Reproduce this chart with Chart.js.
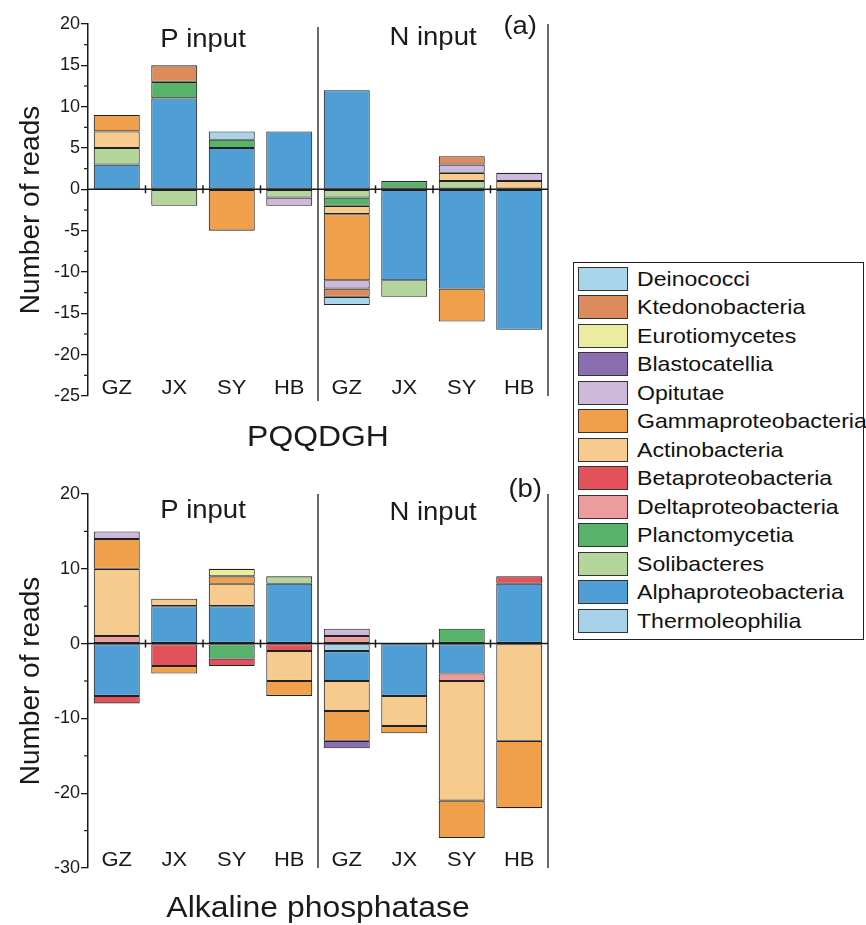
<!DOCTYPE html>
<html><head><meta charset="utf-8">
<script src="https://cdn.jsdelivr.net/npm/chart.js@4.4.1/dist/chart.umd.min.js"></script>
<style>
body{margin:0;background:#fff;}
#wrap{position:relative;width:866px;height:925px;overflow:hidden;font-family:'Liberation Sans',Arial,sans-serif;background:#fff;}
.cbox{position:absolute;left:0;width:566px;}
#legend{position:absolute;left:573px;top:262px;width:291px;height:378px;border:1px solid #222;box-sizing:border-box;background:#fff;}
.sw{position:absolute;left:4px;width:50px;height:24px;border:1.5px solid #333;box-sizing:border-box;}
.lt{position:absolute;left:63px;font-size:21px;line-height:24px;height:24px;white-space:nowrap;transform:scaleX(1.1);transform-origin:0 50%;color:#111;}
</style></head><body>
<div id="wrap">
<div class="cbox" style="top:0;height:460px"><canvas id="ca"></canvas></div>
<div class="cbox" style="top:470px;height:455px"><canvas id="cb"></canvas></div>
<div id="legend"></div>
</div>
<script>
// ---------- data ----------
const categories = ['GZ','JX','SY','HB','GZ','JX','SY','HB'];
const groupTitles = ['P input','N input'];
// stacking order (first = closest to zero)
const taxa = ['Thermoleophilia','Alphaproteobacteria','Solibacteres','Planctomycetia','Deltaproteobacteria','Betaproteobacteria','Actinobacteria','Gammaproteobacteria','Opitutae','Blastocatellia','Eurotiomycetes','Ktedonobacteria','Deinococci'];
const taxonColors = ['#a8d1ea','#4f9fd6','#b4d59b','#58b36a','#ec9c9d','#e3525a','#f6cb8d','#f09f4b','#cdb9d9','#8b6eaf','#ececa0','#dc8b5d','#a9d5ea'];

// (a) PQQDGH  order: P-GZ, P-JX, P-SY, P-HB, N-GZ, N-JX, N-SY, N-HB
const pqqThermoleophilia     = [0, 0, 0, 0, 0, 0, 0, 0];
const pqqAlphaproteobacteria = [3, 11, 5, 7, 12, -11, -12, -17];
const pqqSolibacteres        = [2, -2, 0, -1, -1, -2, 1, 0];
const pqqPlanctomycetia      = [0, 2, 1, 0, -1, 1, 0, 0];
const pqqDeltaproteobacteria = [0, 0, 0, 0, 0, 0, 0, 0];
const pqqBetaproteobacteria  = [0, 0, 0, 0, 0, 0, 0, 0];
const pqqActinobacteria      = [2, 0, 0, 0, -1, 0, 1, 1];
const pqqGammaproteobacteria = [2, 0, -5, 0, -8, 0, -4, 0];
const pqqOpitutae            = [0, 0, 0, -1, -1, 0, 1, 1];
const pqqBlastocatellia      = [0, 0, 0, 0, 0, 0, 0, 0];
const pqqEurotiomycetes      = [0, 0, 0, 0, 0, 0, 0, 0];
const pqqKtedonobacteria     = [0, 2, 0, 0, -1, 0, 1, 0];
const pqqDeinococci          = [0, 0, 1, 0, -1, 0, 0, 0];

// (b) Alkaline phosphatase
const alpThermoleophilia     = [0, 0, 0, 0, -1, 0, 0, 0];
const alpAlphaproteobacteria = [-7, 5, 5, 8, -4, -7, -4, 8];
const alpSolibacteres        = [0, 0, 0, 1, 0, 0, 0, 0];
const alpPlanctomycetia      = [0, 0, -2, 0, 0, 0, 2, 0];
const alpDeltaproteobacteria = [1, 0, 0, 0, 1, 0, -1, 0];
const alpBetaproteobacteria  = [-1, -3, -1, -1, 0, 0, 0, 1];
const alpActinobacteria      = [9, 1, 3, -4, -4, -4, -16, -13];
const alpGammaproteobacteria = [4, -1, 1, -2, -4, -1, -5, -9];
const alpOpitutae            = [1, 0, 0, 0, 1, 0, 0, 0];
const alpBlastocatellia      = [0, 0, 0, 0, -1, 0, 0, 0];
const alpEurotiomycetes      = [0, 0, 1, 0, 0, 0, 0, 0];
const alpKtedonobacteria     = [0, 0, 0, 0, 0, 0, 0, 0];
const alpDeinococci          = [0, 0, 0, 0, 0, 0, 0, 0];

const pqqTicks = [-25, -20, -15, -10, -5, 0, 5, 10, 15, 20];
const alpTicks = [-30, -20, -10, 0, 10, 20];

const pqqSeries = [pqqThermoleophilia, pqqAlphaproteobacteria, pqqSolibacteres, pqqPlanctomycetia, pqqDeltaproteobacteria, pqqBetaproteobacteria, pqqActinobacteria, pqqGammaproteobacteria, pqqOpitutae, pqqBlastocatellia, pqqEurotiomycetes, pqqKtedonobacteria, pqqDeinococci];
const alpSeries = [alpThermoleophilia, alpAlphaproteobacteria, alpSolibacteres, alpPlanctomycetia, alpDeltaproteobacteria, alpBetaproteobacteria, alpActinobacteria, alpGammaproteobacteria, alpOpitutae, alpBlastocatellia, alpEurotiomycetes, alpKtedonobacteria, alpDeinococci];

// ---------- drawing ----------
const FONT = "'Liberation Sans', Arial, sans-serif";
const INK = '#1a1a1a';

function sText(ctx, txt, x, y, size, align, sx) {
  ctx.save();
  ctx.translate(x, y);
  ctx.scale(sx, 1);
  ctx.font = size + 'px ' + FONT;
  ctx.textAlign = align;
  ctx.textBaseline = 'alphabetic';
  ctx.fillStyle = INK;
  ctx.fillText(txt, 0, 0);
  ctx.restore();
}

function makeDecor(cfg) {
  return {
    id: 'decor',
    afterDatasetsDraw(chart) {
      const {ctx, chartArea: a, scales: {x, y}} = chart;
      ctx.save();
      ctx.strokeStyle = INK;
      ctx.lineWidth = 1.5;
      const y0 = y.getPixelForValue(0);
      ctx.beginPath(); ctx.moveTo(a.left, y0); ctx.lineTo(a.right, y0); ctx.stroke();
      // category boundary ticks on zero line
      for (let i = 0; i < categories.length - 1; i++) {
        if (i === 3) continue;
        const bx = (x.getPixelForValue(i) + x.getPixelForValue(i + 1)) / 2;
        ctx.beginPath(); ctx.moveTo(bx, y0 - 4); ctx.lineTo(bx, y0 + 4); ctx.stroke();
      }
      // group separator and right frame
      ctx.lineWidth = 1.3;
      const sx = (x.getPixelForValue(3) + x.getPixelForValue(4)) / 2;
      ctx.beginPath(); ctx.moveTo(sx, a.top + cfg.sepTop); ctx.lineTo(sx, a.bottom + cfg.sepBottom); ctx.stroke();
      ctx.beginPath(); ctx.moveTo(a.right, a.top); ctx.lineTo(a.right, a.bottom); ctx.stroke();
      // minor ticks on y axis
      ctx.lineWidth = 1.2;
      for (let v = y.min; v <= y.max + 1e-9; v += cfg.minorStep) {
        if (Math.abs(v % cfg.majorStep) < 1e-9) continue;
        const py = y.getPixelForValue(v);
        ctx.beginPath(); ctx.moveTo(a.left - 4, py); ctx.lineTo(a.left, py); ctx.stroke();
      }
      ctx.restore();
      // category labels at bottom of plot
      categories.forEach((c, i) => sText(ctx, c, x.getPixelForValue(i), a.bottom - 2, 20, 'center', 1.1));
      // group titles
      const g0 = (x.getPixelForValue(0) + x.getPixelForValue(3)) / 2;
      const g1 = (x.getPixelForValue(4) + x.getPixelForValue(7)) / 2;
      sText(ctx, groupTitles[0], g0, a.top + cfg.titleDy[0], 25, 'center', 1.1);
      sText(ctx, groupTitles[1], g1, a.top + cfg.titleDy[1], 25, 'center', 1.1);
      sText(ctx, cfg.panel, a.right - cfg.panelDx, a.top + cfg.panelDy, 25, 'right', 1.1);
      sText(ctx, cfg.caption, (a.left + a.right) / 2, a.bottom + cfg.captionDy, 29, 'center', 1.1);
    }
  };
}

function buildChart(id, series, ticks, majorStep, minorStep, padBottom, cfg) {
  const datasets = taxa.map((t, k) => ({
    label: t,
    data: series[k].map(v => v === 0 ? null : v),
    backgroundColor: taxonColors[k],
    borderColor: '#222222',
    borderWidth: 1.1,
    borderSkipped: false,
    barPercentage: 0.8,
    categoryPercentage: 1.0
  }));
  cfg.majorStep = majorStep; cfg.minorStep = minorStep;
  return new Chart(document.getElementById(id), {
    type: 'bar',
    data: {labels: categories, datasets},
    options: {
      responsive: true, maintainAspectRatio: false, animation: false,
      layout: {padding: {top: 24, right: 18, bottom: padBottom, left: 0}},
      plugins: {legend: {display: false}, tooltip: {enabled: false}, title: {display: false}},
      scales: {
        x: {type: 'category', stacked: true, display: false, offset: true},
        y: {
          stacked: true, min: ticks[0], max: ticks[ticks.length - 1],
          afterFit: s => { s.width = 88; },
          afterBuildTicks: s => { s.ticks = ticks.map(v => ({value: v})); },
          ticks: {color: INK, font: {family: FONT, size: 18}, padding: 1},
          grid: {display: true, drawOnChartArea: false, drawTicks: true, tickLength: 7, color: INK, lineWidth: 1.3},
          border: {display: true, color: INK, width: 1.5},
          title: {display: true, text: 'Number of reads', color: INK, font: {family: FONT, size: 28, lineHeight: 1.2}, padding: {top: 14, bottom: 0}}
        }
      }
    },
    plugins: [makeDecor(cfg)]
  });
}

buildChart('ca', pqqSeries, pqqTicks, 5, 2.5, 64,
  {panel: '(a)', caption: 'PQQDGH', titleDy: [23, 21], panelDx: 11, panelDy: 10, captionDy: 50, sepTop: 3, sepBottom: 5});
buildChart('cb', alpSeries, alpTicks, 10, 5, 57,
  {panel: '(b)', caption: 'Alkaline phosphatase', titleDy: [24, 26], panelDx: 6, panelDy: 3, captionDy: 49, sepTop: 0, sepBottom: 0});

// ---------- legend (top to bottom = reverse stacking order) ----------
const legend = document.getElementById('legend');
const order = taxa.map((t, k) => k).reverse();
order.forEach((k, r) => {
  const top = 4 + r * 28.46;
  const sw = document.createElement('div');
  sw.className = 'sw'; sw.style.top = top + 'px'; sw.style.background = taxonColors[k];
  const lt = document.createElement('div');
  lt.className = 'lt'; lt.style.top = top + 'px'; lt.textContent = taxa[k];
  legend.appendChild(sw); legend.appendChild(lt);
});
</script>
</body></html>
